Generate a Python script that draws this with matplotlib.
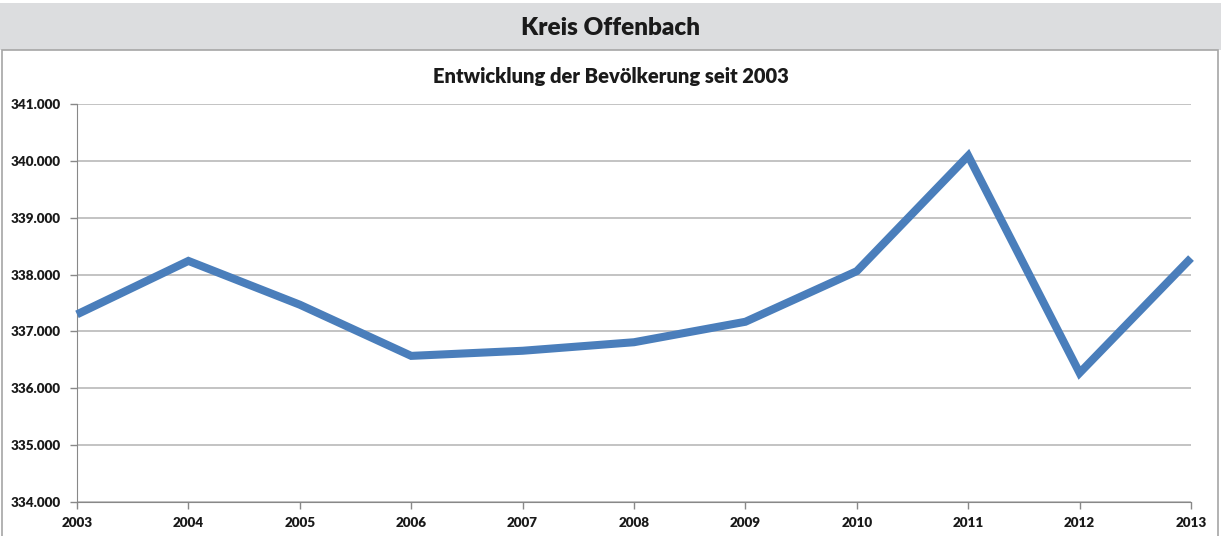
import numpy as np
import matplotlib.pyplot as plt
from matplotlib.patches import Rectangle
from matplotlib.ticker import FuncFormatter

# Daten (Bevölkerung)
jahre = [2003, 2004, 2005, 2006, 2007, 2008, 2009, 2010, 2011, 2012, 2013]
einwohner = [337300, 338240, 337470, 336570, 336660, 336810, 337170, 338060, 340090, 336270, 338290]

plt.rcParams['font.family'] = ['Lato', 'DejaVu Sans']

fig = plt.figure(figsize=(12.21, 5.36), dpi=100)

# grauer Kopfbereich
fig.patches.append(Rectangle((0, 1 - 50 / 536), 1, 47 / 536, transform=fig.transFigure,
                             facecolor='#dcdddf', edgecolor='none', zorder=-2))
# Rahmen des Diagramms
fig.patches.append(Rectangle((2 / 1221, -0.01), 1216 / 1221, 1 - 50 / 536 + 0.01,
                             transform=fig.transFigure, facecolor='white',
                             edgecolor='#a6a6a6', linewidth=1.2, zorder=-1))
fig.text(0.5, 1 - 28 / 536, 'Kreis Offenbach', ha='center', va='center',
         fontsize=17.5, fontweight='heavy', color='#1a1a1a')

ax = fig.add_axes([77 / 1221, 1 - 502 / 536, (1191 - 77) / 1221, (502 - 104) / 536])
ax.set_zorder(1)
ax.patch.set_alpha(0)
ax.plot(jahre, einwohner, color='#4a7ebb', linewidth=5.8, solid_joinstyle='miter',
        solid_capstyle='butt', clip_on=False, zorder=3)

ax.set_xlim(2003, 2013)
ax.set_ylim(334000, 341000)
ax.set_xticks(jahre)
ax.set_yticks(np.arange(334000, 341001, 1000))
ax.yaxis.set_major_formatter(FuncFormatter(lambda v, p: f'{v:,.0f}'.replace(',', '.')))
ax.grid(axis='y', color='#b3b3b3', linewidth=1.1)
ax.set_axisbelow(True)

for s in ['top', 'right']:
    ax.spines[s].set_visible(False)
ax.spines['left'].set_color('#888888')
ax.spines['bottom'].set_color('#888888')
ax.tick_params(axis='both', colors='#888888', length=5, width=1, labelcolor='#1a1a1a',
               labelsize=9.7)
for lab in ax.get_xticklabels() + ax.get_yticklabels():
    lab.set_fontweight('heavy')
ax.tick_params(axis='x', pad=6)
ax.tick_params(axis='y', pad=7)

fig.text(0.5, 1 - 76 / 536, 'Entwicklung der Bevölkerung seit 2003', ha='center',
         va='center', fontsize=14.5, fontweight='heavy', color='#1a1a1a')

fig.savefig('out.png', dpi=100)
